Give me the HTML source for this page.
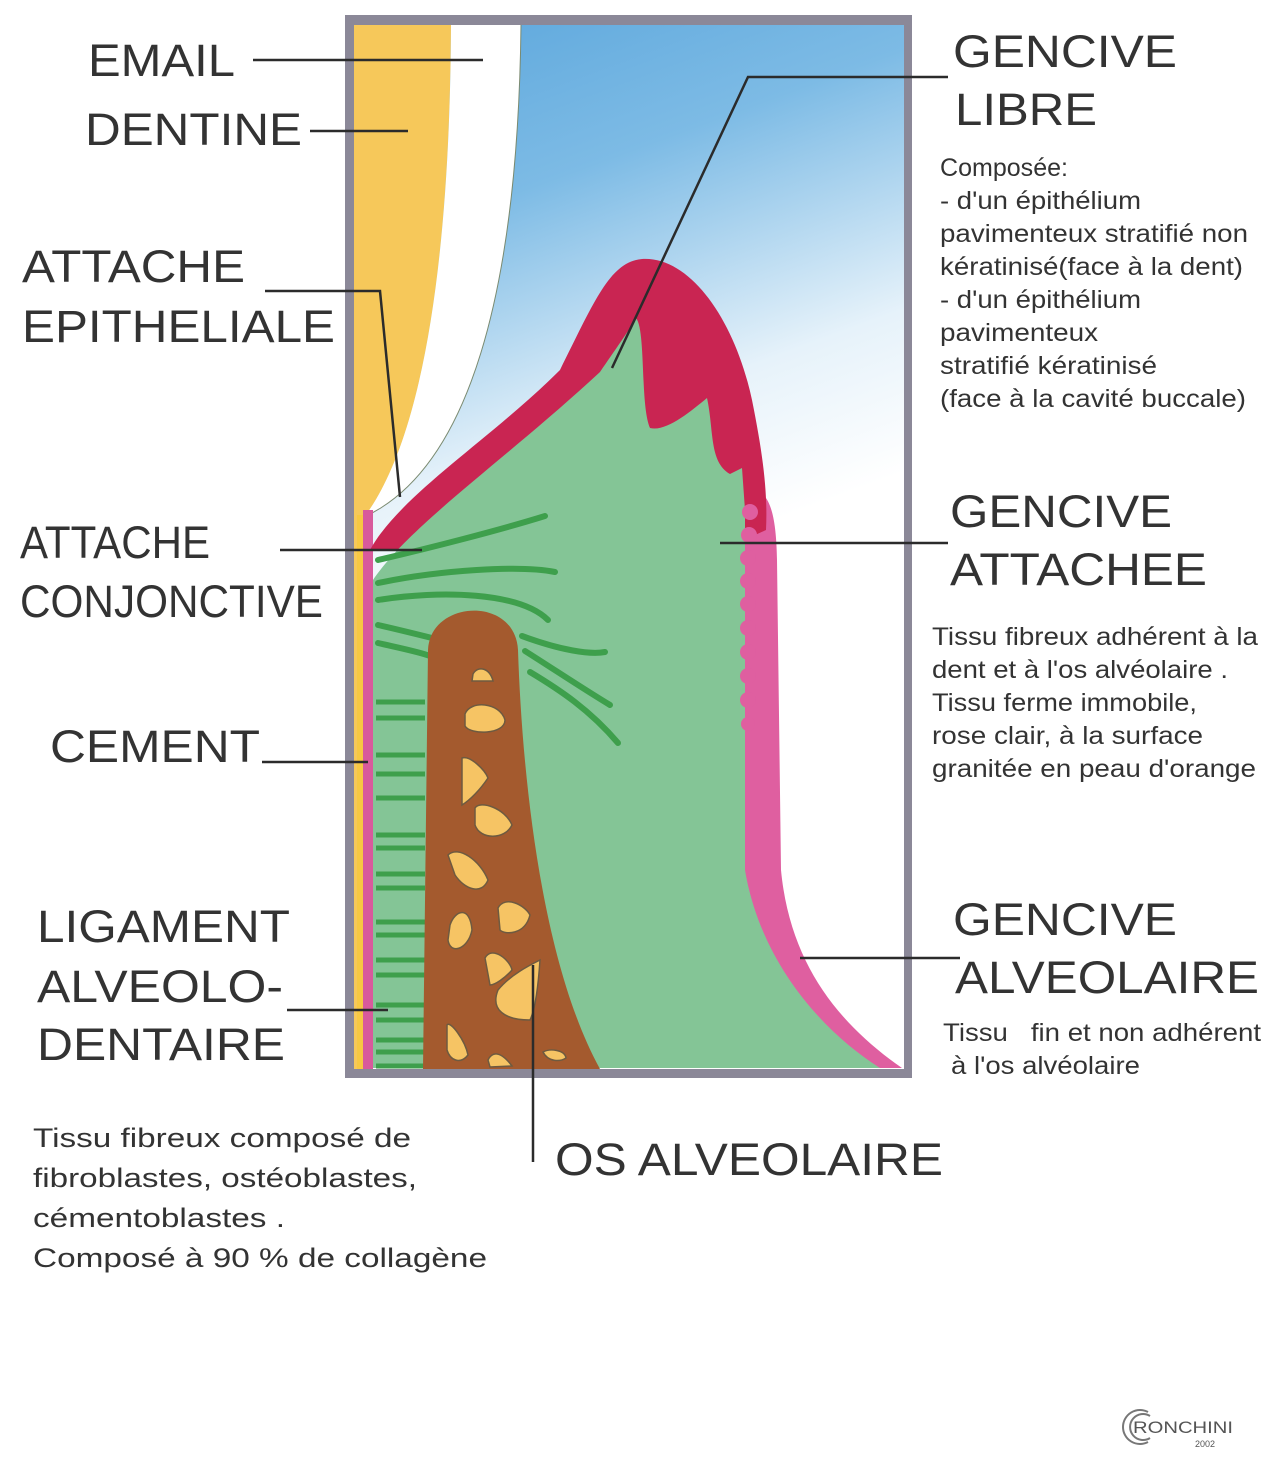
<!DOCTYPE html>
<html><head><meta charset="utf-8"><style>
html,body{margin:0;padding:0;background:#fff}
svg{display:block}
text{font-family:"Liberation Sans",sans-serif;fill:#333}
.b{font-size:45px}
.s{font-size:25px}
.m{font-size:27px}
</style></head><body>
<svg width="1282" height="1460" viewBox="0 0 1282 1460" xmlns="http://www.w3.org/2000/svg">
<defs>
<linearGradient id="sky" x1="0" y1="0" x2="0.35" y2="1">
<stop offset="0" stop-color="#5ba6dc"/>
<stop offset="0.35" stop-color="#7dbbe5"/>
<stop offset="0.75" stop-color="#e6f2fa"/>
<stop offset="1" stop-color="#ffffff"/>
</linearGradient>
</defs>
<rect x="345" y="15" width="567" height="1063" fill="#8b8898"/>
<rect x="354" y="25" width="550" height="1044" fill="#ffffff"/>
<rect x="354" y="25" width="550" height="580" fill="url(#sky)"/>
<path d="M354 25 L451 25 C450 250 425 440 362 520 L362 1069 L354 1069 Z" fill="#f6c85a"/>
<path d="M451 25 L521 25 C518 290 470 470 362 518 L362 520 C425 440 450 250 451 25 Z" fill="#ffffff"/>
<path d="M521 25 C518 290 470 470 362 518" fill="none" stroke="#7a8a70" stroke-width="1"/>
<rect x="357" y="515" width="6" height="554" fill="#f7c842"/>
<rect x="363" y="510" width="10" height="559" fill="#d85a9c"/>
<path d="M738 488 C765 484 776 500 777 560 L781 870 C790 965 840 1025 902 1068 L738 1068 Z" fill="#df5fa0"/>
<path d="M370 550 C400 495 490 440 560 370 C595 300 610 262 642 259 C690 256 735 320 752 400 C762 450 768 490 766 530 L700 560 Z" fill="#c92552"/>
<path d="M373 580 C410 525 505 460 600 372 C615 350 628 332 636 318 C646 330 640 405 650 428 C666 432 690 412 707 398 C714 430 709 462 730 474 L742 468 L745 510 L745 870 C760 960 820 1030 880 1068 L373 1068 Z" fill="#84c596"/>
<g fill="#df5fa0">
<circle cx="750" cy="512" r="8"/><circle cx="749" cy="535" r="8"/><circle cx="748" cy="558" r="8"/><circle cx="748" cy="581" r="8"/><circle cx="748" cy="604" r="8"/><circle cx="748" cy="628" r="8"/><circle cx="748" cy="652" r="8"/><circle cx="748" cy="676" r="8"/><circle cx="748" cy="700" r="8"/><circle cx="748" cy="724" r="7"/>
</g>
<g stroke="#3e9f4c" stroke-width="6" stroke-linecap="round" fill="none">
<path d="M378 560 C430 548 500 530 545 516"/>
<path d="M378 583 C440 570 520 565 555 572"/>
<path d="M378 600 C440 590 520 592 548 620"/>
<path d="M378 625 C400 630 420 635 432 638"/>
<path d="M378 643 C400 648 420 652 430 656"/>
<path d="M522 636 C560 650 590 655 605 652"/>
<path d="M525 651 C555 670 585 690 610 705"/>
<path d="M530 672 C560 690 590 710 618 743"/>
</g>
<g stroke="#3e9f4c" stroke-width="5" fill="none">
<path d="M376 702H425M376 718H425M376 755H425M376 774H425M376 798H425M376 835H425M376 848H425M376 874H425M376 888H425M376 922H425M376 935H425M376 960H425M376 975H425M376 1005H425M376 1020H425M376 1040H425M376 1052H425M376 1066H425"/>
</g>
<path d="M423 1069 L428 650 C430 600 515 595 518 650 C522 770 540 960 600 1069 Z" fill="#a45a2e"/>
<g fill="#f6c464" stroke="#6e5a40" stroke-width="1.5">
<path d="M473 674 C478 665 490 668 493 681 L472 681 Z"/>
<path d="M465 714 C470 700 500 702 505 720 C505 735 470 735 465 726 Z"/>
<path d="M462 758 C470 755 485 770 488 778 C480 790 470 800 462 805 Z"/>
<path d="M475 808 C480 800 505 808 512 825 C505 840 480 840 475 825 Z"/>
<path d="M448 855 C458 845 480 860 488 880 C482 895 465 890 455 875 Z"/>
<path d="M450 925 C455 910 470 905 472 930 C468 950 450 955 448 940 Z"/>
<path d="M498 908 C505 895 525 905 530 915 C525 935 505 935 500 930 Z"/>
<path d="M485 958 C492 945 510 960 512 970 C505 978 495 985 490 985 Z"/>
<path d="M498 990 C510 975 530 965 540 960 C538 990 535 1010 530 1020 C505 1020 490 1010 498 990 Z"/>
<path d="M447 1025 C450 1020 465 1040 468 1055 C460 1065 450 1060 447 1050 Z"/>
<path d="M488 1060 C492 1052 500 1050 512 1066 L490 1067 Z"/>
<path d="M543 1052 C550 1048 565 1050 566 1058 C560 1062 548 1062 543 1052 Z"/>
</g>
<g stroke="#2b2b2b" stroke-width="2.5" fill="none">
<path d="M253 60H483"/>
<path d="M310 131H408"/>
<path d="M265 291H380L400 497"/>
<path d="M280 550H422"/>
<path d="M262 762H368"/>
<path d="M287 1010H388"/>
<path d="M533 965V1162"/>
<path d="M948 77H748L612 368"/>
<path d="M720 543H948"/>
<path d="M800 958H960"/>
</g>
<text class="b" x="88" y="76" textLength="147" lengthAdjust="spacingAndGlyphs">EMAIL</text>
<text class="b" x="85" y="145" textLength="217" lengthAdjust="spacingAndGlyphs">DENTINE</text>
<text class="b" x="22" y="282" textLength="223" lengthAdjust="spacingAndGlyphs">ATTACHE</text>
<text class="b" x="22" y="342" textLength="313" lengthAdjust="spacingAndGlyphs">EPITHELIALE</text>
<text class="b" x="20" y="558" textLength="190" lengthAdjust="spacingAndGlyphs">ATTACHE</text>
<text class="b" x="20" y="617" textLength="303" lengthAdjust="spacingAndGlyphs">CONJONCTIVE</text>
<text class="b" x="50" y="762" textLength="210" lengthAdjust="spacingAndGlyphs">CEMENT</text>
<text class="b" x="37" y="942" textLength="253" lengthAdjust="spacingAndGlyphs">LIGAMENT</text>
<text class="b" x="37" y="1002" textLength="246" lengthAdjust="spacingAndGlyphs">ALVEOLO-</text>
<text class="b" x="37" y="1060" textLength="248" lengthAdjust="spacingAndGlyphs">DENTAIRE</text>
<text class="b" x="555" y="1175" textLength="388" lengthAdjust="spacingAndGlyphs">OS ALVEOLAIRE</text>
<text class="b" x="953" y="67" textLength="224" lengthAdjust="spacingAndGlyphs">GENCIVE</text>
<text class="b" x="955" y="125" textLength="142" lengthAdjust="spacingAndGlyphs">LIBRE</text>
<text class="b" x="950" y="527" textLength="222" lengthAdjust="spacingAndGlyphs">GENCIVE</text>
<text class="b" x="950" y="585" textLength="257" lengthAdjust="spacingAndGlyphs">ATTACHEE</text>
<text class="b" x="953" y="935" textLength="224" lengthAdjust="spacingAndGlyphs">GENCIVE</text>
<text class="b" x="955" y="993" textLength="304" lengthAdjust="spacingAndGlyphs">ALVEOLAIRE</text>
<text class="s" x="940" y="176" textLength="128" lengthAdjust="spacingAndGlyphs">Composée:</text>
<text class="s" x="940" y="209" textLength="201" lengthAdjust="spacingAndGlyphs">- d'un épithélium</text>
<text class="s" x="940" y="242" textLength="308" lengthAdjust="spacingAndGlyphs">pavimenteux stratifié non</text>
<text class="s" x="940" y="275" textLength="303" lengthAdjust="spacingAndGlyphs">kératinisé(face à la dent)</text>
<text class="s" x="940" y="308" textLength="201" lengthAdjust="spacingAndGlyphs">- d'un épithélium</text>
<text class="s" x="940" y="341" textLength="158" lengthAdjust="spacingAndGlyphs">pavimenteux</text>
<text class="s" x="940" y="374" textLength="217" lengthAdjust="spacingAndGlyphs">stratifié kératinisé</text>
<text class="s" x="940" y="407" textLength="306" lengthAdjust="spacingAndGlyphs">(face à la cavité buccale)</text>
<text class="s" x="932" y="645" textLength="326" lengthAdjust="spacingAndGlyphs">Tissu fibreux adhérent à la</text>
<text class="s" x="932" y="678" textLength="296" lengthAdjust="spacingAndGlyphs">dent et à l'os alvéolaire .</text>
<text class="s" x="932" y="711" textLength="265" lengthAdjust="spacingAndGlyphs">Tissu ferme immobile,</text>
<text class="s" x="932" y="744" textLength="271" lengthAdjust="spacingAndGlyphs">rose clair, à la surface</text>
<text class="s" x="932" y="777" textLength="324" lengthAdjust="spacingAndGlyphs">granitée en peau d'orange</text>
<text class="s" x="943" y="1041" textLength="318" lengthAdjust="spacingAndGlyphs" xml:space="preserve">Tissu   fin et non adhérent</text>
<text class="s" x="951" y="1074" textLength="189" lengthAdjust="spacingAndGlyphs">à l'os alvéolaire</text>
<text class="m" x="33" y="1147" textLength="378" lengthAdjust="spacingAndGlyphs">Tissu fibreux composé de</text>
<text class="m" x="33" y="1187" textLength="384" lengthAdjust="spacingAndGlyphs">fibroblastes, ostéoblastes,</text>
<text class="m" x="33" y="1227" textLength="252" lengthAdjust="spacingAndGlyphs">cémentoblastes .</text>
<text class="m" x="33" y="1267" textLength="454" lengthAdjust="spacingAndGlyphs">Composé à 90 % de collagène</text>
<path d="M1148 1412 A17 17 0 1 0 1148 1442" fill="none" stroke="#777" stroke-width="2"/>
<path d="M1150 1416 A13 13 0 1 0 1150 1438" fill="none" stroke="#777" stroke-width="2"/>
<text x="1133" y="1433" style="font-size:17px;fill:#555" textLength="100" lengthAdjust="spacingAndGlyphs">RONCHINI</text>
<text x="1195" y="1447" style="font-size:9px;fill:#555">2002</text>
</svg>
</body></html>
